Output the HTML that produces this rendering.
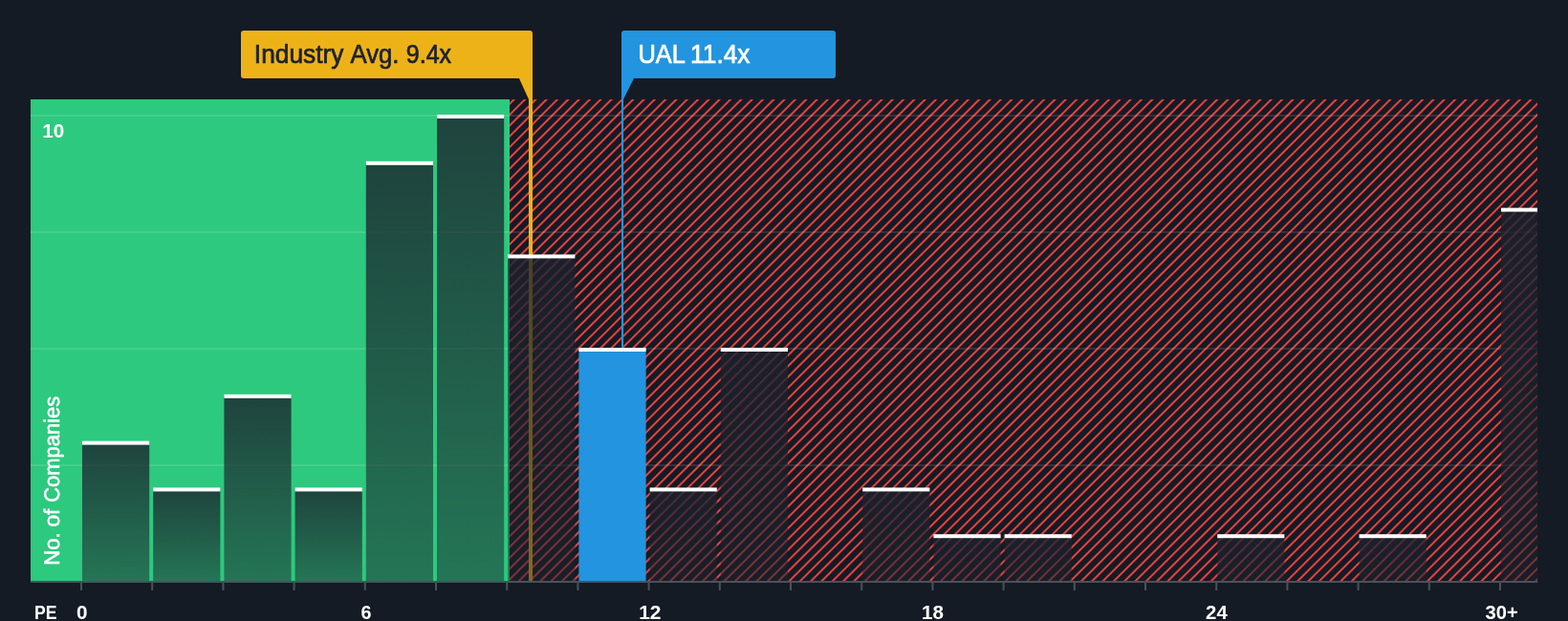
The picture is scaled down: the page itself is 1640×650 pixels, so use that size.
<!DOCTYPE html>
<html lang="en"><head><meta charset="utf-8"><title>UAL PE vs Industry</title>
<style>html,body{margin:0;padding:0;background:#151b24;}body{width:1640px;height:650px;overflow:hidden;}svg{display:block;}text{font-family:"Liberation Sans",sans-serif;}</style>
</head><body>
<svg width="1640" height="650" viewBox="0 0 1640 650">
<defs>
<pattern id="hatch" patternUnits="userSpaceOnUse" width="8" height="8" patternTransform="translate(-4.5,0) rotate(45)"><rect x="0" y="0" width="8" height="8" fill="#151b24"/><rect x="0" y="0" width="2" height="8" fill="#e64141"/></pattern>
<linearGradient id="barg" x1="0" y1="0" x2="0" y2="1"><stop offset="0" stop-color="#1b222d" stop-opacity="0.8"/><stop offset="1" stop-color="#1b222d" stop-opacity="0.5"/></linearGradient>
<clipPath id="plot"><rect x="32" y="104" width="1576" height="504"/></clipPath>
</defs>
<rect x="0" y="0" width="1640" height="650" fill="#151b24"/>
<rect x="533" y="104" width="1075" height="504" fill="url(#hatch)"/>
<rect x="32" y="104" width="501" height="504" fill="#2dc97e"/>
<rect x="553" y="100" width="4" height="508" fill="#eeb219"/>
<rect x="32" y="486.50" width="1576" height="1" fill="#ffffff" fill-opacity="0.22"/>
<rect x="32" y="364.50" width="1576" height="1" fill="#ffffff" fill-opacity="0.22"/>
<rect x="32" y="242.50" width="1576" height="1" fill="#ffffff" fill-opacity="0.22"/>
<rect x="32" y="120.50" width="1576" height="1" fill="#ffffff" fill-opacity="0.22"/>
<g clip-path="url(#plot)">
<rect x="86.00" y="462.60" width="70.2" height="146.40" fill="url(#barg)"/>
<rect x="86.00" y="461.60" width="70.2" height="4" fill="#ffffff"/>
<rect x="160.20" y="511.40" width="70.2" height="97.60" fill="url(#barg)"/>
<rect x="160.20" y="510.40" width="70.2" height="4" fill="#ffffff"/>
<rect x="234.40" y="413.80" width="70.2" height="195.20" fill="url(#barg)"/>
<rect x="234.40" y="412.80" width="70.2" height="4" fill="#ffffff"/>
<rect x="308.60" y="511.40" width="70.2" height="97.60" fill="url(#barg)"/>
<rect x="308.60" y="510.40" width="70.2" height="4" fill="#ffffff"/>
<rect x="382.80" y="169.80" width="70.2" height="439.20" fill="url(#barg)"/>
<rect x="382.80" y="168.80" width="70.2" height="4" fill="#ffffff"/>
<rect x="457.00" y="121.00" width="70.2" height="488.00" fill="url(#barg)"/>
<rect x="457.00" y="120.00" width="70.2" height="4" fill="#ffffff"/>
<rect x="531.20" y="267.40" width="70.2" height="341.60" fill="url(#barg)"/>
<rect x="531.20" y="266.40" width="70.2" height="4" fill="#ffffff"/>
<rect x="605.40" y="365.00" width="70.2" height="244.00" fill="#2394df"/>
<rect x="605.40" y="364.00" width="70.2" height="4" fill="#ffffff"/>
<rect x="679.60" y="511.40" width="70.2" height="97.60" fill="url(#barg)"/>
<rect x="679.60" y="510.40" width="70.2" height="4" fill="#ffffff"/>
<rect x="753.80" y="365.00" width="70.2" height="244.00" fill="url(#barg)"/>
<rect x="753.80" y="364.00" width="70.2" height="4" fill="#ffffff"/>
<rect x="902.20" y="511.40" width="70.2" height="97.60" fill="url(#barg)"/>
<rect x="902.20" y="510.40" width="70.2" height="4" fill="#ffffff"/>
<rect x="976.40" y="560.20" width="70.2" height="48.80" fill="url(#barg)"/>
<rect x="976.40" y="559.20" width="70.2" height="4" fill="#ffffff"/>
<rect x="1050.60" y="560.20" width="70.2" height="48.80" fill="url(#barg)"/>
<rect x="1050.60" y="559.20" width="70.2" height="4" fill="#ffffff"/>
<rect x="1273.20" y="560.20" width="70.2" height="48.80" fill="url(#barg)"/>
<rect x="1273.20" y="559.20" width="70.2" height="4" fill="#ffffff"/>
<rect x="1421.60" y="560.20" width="70.2" height="48.80" fill="url(#barg)"/>
<rect x="1421.60" y="559.20" width="70.2" height="4" fill="#ffffff"/>
<rect x="1570.00" y="218.60" width="70.2" height="390.40" fill="url(#barg)"/>
<rect x="1570.00" y="217.60" width="70.2" height="4" fill="#ffffff"/>
</g>
<rect x="650" y="100" width="2" height="264" fill="#2394df"/>
<rect x="32" y="608" width="1576" height="2" fill="#4b5059"/>
<rect x="84.00" y="608" width="2" height="10" fill="#4b5059"/>
<rect x="158.20" y="608" width="2" height="10" fill="#4b5059"/>
<rect x="232.40" y="608" width="2" height="10" fill="#4b5059"/>
<rect x="306.60" y="608" width="2" height="10" fill="#4b5059"/>
<rect x="380.80" y="608" width="2" height="10" fill="#4b5059"/>
<rect x="455.00" y="608" width="2" height="10" fill="#4b5059"/>
<rect x="529.20" y="608" width="2" height="10" fill="#4b5059"/>
<rect x="603.40" y="608" width="2" height="10" fill="#4b5059"/>
<rect x="677.60" y="608" width="2" height="10" fill="#4b5059"/>
<rect x="751.80" y="608" width="2" height="10" fill="#4b5059"/>
<rect x="826.00" y="608" width="2" height="10" fill="#4b5059"/>
<rect x="900.20" y="608" width="2" height="10" fill="#4b5059"/>
<rect x="974.40" y="608" width="2" height="10" fill="#4b5059"/>
<rect x="1048.60" y="608" width="2" height="10" fill="#4b5059"/>
<rect x="1122.80" y="608" width="2" height="10" fill="#4b5059"/>
<rect x="1197.00" y="608" width="2" height="10" fill="#4b5059"/>
<rect x="1271.20" y="608" width="2" height="10" fill="#4b5059"/>
<rect x="1345.40" y="608" width="2" height="10" fill="#4b5059"/>
<rect x="1419.60" y="608" width="2" height="10" fill="#4b5059"/>
<rect x="1493.80" y="608" width="2" height="10" fill="#4b5059"/>
<rect x="1568.00" y="608" width="2" height="10" fill="#4b5059"/>
<path d="M255 32 H554 Q557 32 557 35 V104 H553 L543 82 H255 Q252 82 252 79 V35 Q252 32 255 32 Z" fill="#eeb219"/>
<path d="M653 32 H871 Q874 32 874 35 V79 Q874 82 871 82 H663 L652 104 H650 V35 Q650 32 653 32 Z" fill="#2394df"/>
<text y="66" font-size="26.9" font-weight="normal" fill="#1b222d" stroke="#1b222d" stroke-width="0.7" stroke-linejoin="round"><tspan x="265.84" textLength="93.62" lengthAdjust="spacingAndGlyphs">Industry</tspan> <tspan x="366.44" textLength="51.05" lengthAdjust="spacingAndGlyphs">Avg.</tspan> <tspan x="424.80" textLength="47.24" lengthAdjust="spacingAndGlyphs">9.4x</tspan></text>
<text y="66" font-size="26.9" font-weight="normal" fill="#ffffff" stroke="#ffffff" stroke-width="0.7" stroke-linejoin="round"><tspan x="667.38" textLength="48.44" lengthAdjust="spacingAndGlyphs">UAL</tspan> <tspan x="722.09" textLength="62.46" lengthAdjust="spacingAndGlyphs">11.4x</tspan></text>
<text y="648" font-size="20" font-weight="bold" fill="#ffffff"><tspan x="35.90" textLength="23.51" lengthAdjust="spacingAndGlyphs">PE</tspan></text>
<text y="648" font-size="20" font-weight="bold" fill="#ffffff"><tspan x="80.13" textLength="11.48" lengthAdjust="spacingAndGlyphs">0</tspan></text>
<text y="648" font-size="20" font-weight="bold" fill="#ffffff"><tspan x="377.46" textLength="10.95" lengthAdjust="spacingAndGlyphs">6</tspan></text>
<text y="648" font-size="20" font-weight="bold" fill="#ffffff"><tspan x="668.19" textLength="23.29" lengthAdjust="spacingAndGlyphs">12</tspan></text>
<text y="648" font-size="20" font-weight="bold" fill="#ffffff"><tspan x="964.11" textLength="22.90" lengthAdjust="spacingAndGlyphs">18</tspan></text>
<text y="648" font-size="20" font-weight="bold" fill="#ffffff"><tspan x="1261.14" textLength="22.66" lengthAdjust="spacingAndGlyphs">24</tspan></text>
<text y="648" font-size="20" font-weight="bold" fill="#ffffff"><tspan x="1553.59" textLength="34.30" lengthAdjust="spacingAndGlyphs">30+</tspan></text>
<text y="144" font-size="20" font-weight="bold" fill="#ffffff"><tspan x="44.31" textLength="22.96" lengthAdjust="spacingAndGlyphs">10</tspan></text>
<text y="0" font-size="22.55" font-weight="normal" fill="#ffffff" stroke="#ffffff" stroke-width="0.5" stroke-linejoin="round" text-rendering="geometricPrecision" transform="translate(62,590.6) rotate(-90)"><tspan x="-1.17" textLength="34.49" lengthAdjust="spacingAndGlyphs">No.</tspan> <tspan x="39.04" textLength="19.02" lengthAdjust="spacingAndGlyphs">of</tspan> <tspan x="64.87" textLength="110.96" lengthAdjust="spacingAndGlyphs">Companies</tspan></text>
</svg>
</body></html>
